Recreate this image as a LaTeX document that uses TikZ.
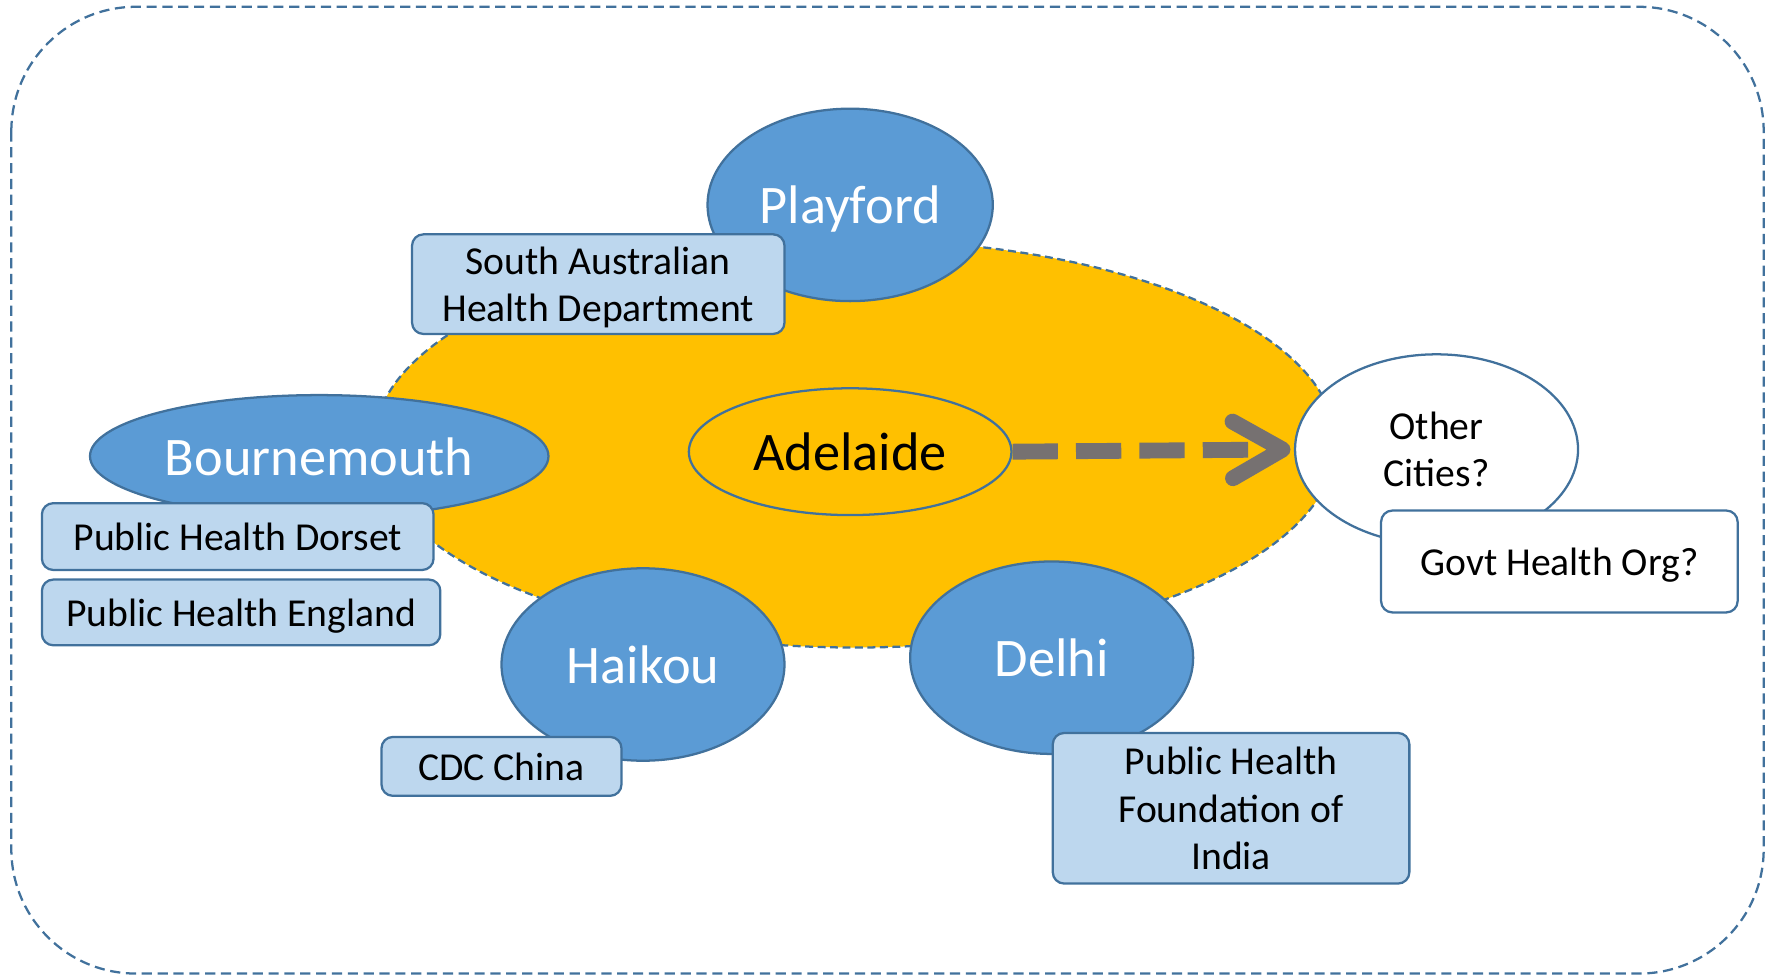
\documentclass[tikz,border=0pt]{standalone}
\usepackage{fontspec}
\setmainfont{Carlito}
\usetikzlibrary{shapes.geometric,arrows.meta}
\definecolor{cityblue}{HTML}{5B9BD5}
\definecolor{edgeblue}{HTML}{41719C}
\definecolor{orgblue}{HTML}{BDD7EE}
\definecolor{metroorange}{HTML}{FFC000}
\definecolor{arrowgrey}{HTML}{767171}

\begin{document}
\begin{tikzpicture}[x=1pt,y=-1pt,line width=2pt,
  city/.style={ellipse,draw=edgeblue,fill=cityblue,text=white,inner sep=0pt,text depth=0pt,font=\fontsize{48}{58}\selectfont},
  org/.style={rectangle,rounded corners=10pt,draw=edgeblue,fill=orgblue,inner sep=0pt,align=center,text depth=0pt,font=\fontsize{35}{42}\selectfont}]
\tikzstyle{link arrow} = [draw=arrowgrey,line width=14pt,dash pattern=on 40pt off 16pt,shorten >=3pt,-{Straight Barb[length=44pt,width=50pt,line width=14pt,round]}]

\useasboundingbox (0,0) rectangle (1568,865);

% Outer frame
\draw[edgeblue,dash pattern=on 9pt off 5pt,rounded corners=110pt] (10,6) rectangle (1558,860);

% Adelaide region
\node[ellipse,draw=edgeblue,fill=metroorange,dash pattern=on 7pt off 4pt,minimum width=850pt,minimum height=360pt] (metro) at (755,392) {};

% Cities
\node[city,minimum width=252pt,minimum height=170pt] (playford) at (751,181) {Playford};
\node[org,minimum width=329pt,minimum height=88pt] (sahd) at (528.5,251) {South Australian\\Health Department};

\node[city,minimum width=405pt,minimum height=108pt] (bourne) at (282,403) {Bournemouth};
\node[org,minimum width=346pt,minimum height=59pt] (phd) at (210,474) {Public Health Dorset};
\node[org,minimum width=352pt,minimum height=58pt] (phe) at (213,541) {Public Health England};

\node[city,minimum width=250pt,minimum height=170pt] (haikou) at (568,587) {Haikou};
\node[org,minimum width=212pt,minimum height=52pt] (cdc) at (443,677) {CDC China};

\node[city,minimum width=250pt,minimum height=170pt] (delhi) at (929,581) {Delhi};
\node[org,minimum width=315pt,minimum height=133pt] (phfi) at (1087.5,714) {Public Health\\Foundation of\\India};

% Adelaide and the next cities
\node[city,fill=metroorange,text=black,minimum width=285pt,minimum height=112pt] (adelaide) at (751,399) {Adelaide};
\node[city,fill=white,text=black,minimum width=250pt,minimum height=168pt,align=center,font=\fontsize{35}{42}\selectfont] (other) at (1269,397) {Other\\Cities?};
\node[org,fill=white,minimum width=315pt,minimum height=90pt] (govt) at (1377.5,496) {Govt Health Org?};

\draw[link arrow] (adelaide.east) -- (other.west);

\end{tikzpicture}
\end{document}
